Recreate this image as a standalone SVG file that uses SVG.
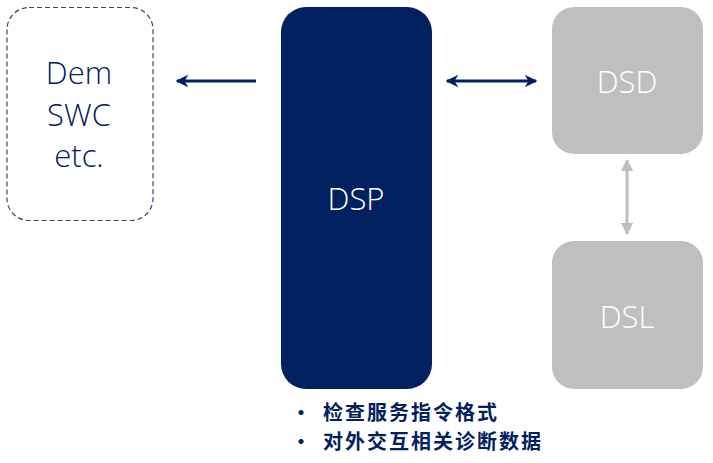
<svg xmlns="http://www.w3.org/2000/svg" width="713" height="463" viewBox="0 0 713 463">
<style>
.lbl{font-family:"Open Sans","Noto Sans",sans-serif;font-size:31px;font-weight:300;text-anchor:middle}
.note{font-family:"Noto Sans CJK SC",sans-serif;font-size:20px;font-weight:bold;fill:#002060;letter-spacing:2px}
</style>
<defs>
<marker id="ah" viewBox="0 0 10 10" refX="9" refY="5" markerWidth="4.2" markerHeight="4.2" orient="auto-start-reverse" markerUnits="strokeWidth"><path d="M0,0 L10,5 L0,10 L3,5 Z" fill="#002060"/></marker>
<marker id="ahg" viewBox="0 0 10 10" refX="9" refY="5" markerWidth="4.2" markerHeight="4.2" orient="auto-start-reverse" markerUnits="strokeWidth"><path d="M0,0 L10,5 L0,10 L0,5 Z" fill="#BFBFBF"/></marker>
</defs>
<g id="dem">
<rect x="7" y="7.5" width="146" height="213" rx="22" fill="none" stroke="#2F4A7A" stroke-width="1.2" stroke-dasharray="5,3"/>
<text class="lbl" x="79" y="84" fill="#002060">Dem</text>
<text class="lbl" x="79" y="126" fill="#002060">SWC</text>
<text class="lbl" x="79" y="167" fill="#002060">etc.</text>
</g>
<g id="dsp">
<rect x="281" y="7" width="151" height="382" rx="25" fill="#00205F"/>
<text class="lbl" x="356" y="210" fill="#FFFFFF">DSP</text>
</g>
<g id="dsd">
<rect x="552" y="7" width="151" height="147" rx="22" fill="#BFBFBF"/>
<text class="lbl" x="627" y="93" fill="#FFFFFF">DSD</text>
</g>
<g id="dsl">
<rect x="552" y="241" width="151" height="148" rx="22" fill="#BFBFBF"/>
<text class="lbl" x="627" y="328" fill="#FFFFFF">DSL</text>
</g>
<g id="connectors">
<line x1="256" y1="81" x2="177" y2="81" stroke="#002060" stroke-width="3" marker-end="url(#ah)"/>
<line x1="447" y1="81" x2="536" y2="81" stroke="#002060" stroke-width="3" marker-start="url(#ah)" marker-end="url(#ah)"/>
<line x1="627" y1="160" x2="627" y2="234" stroke="#BFBFBF" stroke-width="3" marker-start="url(#ahg)" marker-end="url(#ahg)"/>
</g>
<g id="notes">
<text class="note" x="291" y="420">•</text>
<text class="note" x="323" y="420">检查服务指令格式</text>
<text class="note" x="291" y="449">•</text>
<text class="note" x="323" y="449">对外交互相关诊断数据</text>
</g>
</svg>
